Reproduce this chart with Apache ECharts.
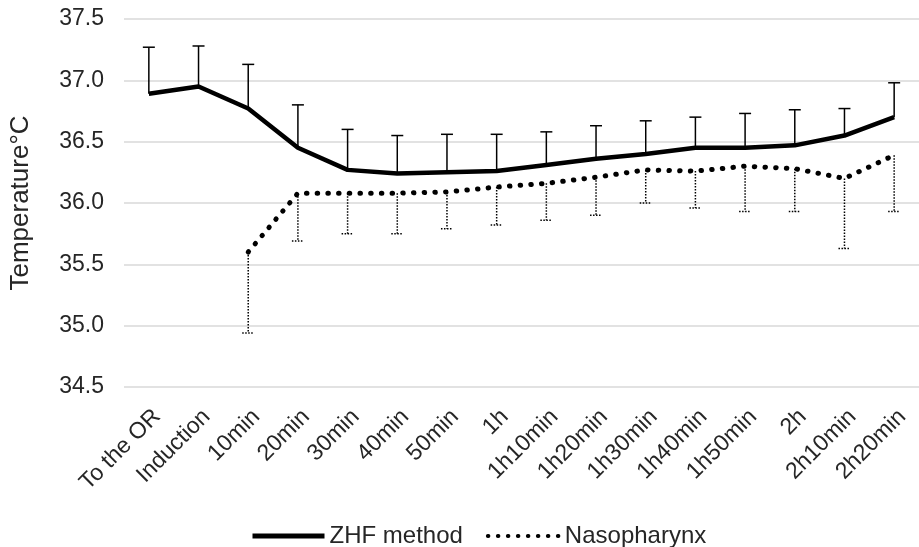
<!DOCTYPE html>
<html>
<head>
	<meta charset="UTF-8">
	<title>Temperature</title>
	<script src="https://cdn.jsdelivr.net/npm/echarts@6/dist/echarts.min.js"></script>
	<style>
		html, body { margin: 0; padding: 0; background: #fff; }
		#container { width: 919px; height: 547px; }
	</style>
</head>
<body>
	<div id="container"></div>
	<script>
		var categories = ['To the OR', 'Induction', '10min', '20min', '30min', '40min', '50min', '1h',
			'1h10min', '1h20min', '1h30min', '1h40min', '1h50min', '2h', '2h10min', '2h20min'];
		var zhfMean  = [36.89, 36.95, 36.77, 36.45, 36.27, 36.24, 36.25, 36.26, 36.31, 36.36, 36.40, 36.45, 36.45, 36.47, 36.55, 36.70];
		var zhfUpper = [37.27, 37.28, 37.13, 36.80, 36.60, 36.55, 36.56, 36.56, 36.58, 36.63, 36.67, 36.70, 36.73, 36.76, 36.77, 36.98];
		var nasoMean  = [null, null, 35.60, 36.08, 36.08, 36.08, 36.09, 36.13, 36.16, 36.21, 36.27, 36.26, 36.30, 36.28, 36.20, 36.39];
		var nasoLower = [null, null, 34.94, 35.69, 35.75, 35.75, 35.79, 35.82, 35.86, 35.90, 36.00, 35.96, 35.93, 35.93, 35.63, 35.93];
		var yTicks = [34.5, 35.0, 35.5, 36.0, 36.5, 37.0, 37.5];

		var font = 'Liberation Sans, Arial, sans-serif';
		var textColor = '#262626';

		function barData(mean, bound) {
			var out = [];
			for (var i = 0; i < mean.length; i++) {
				if (mean[i] != null) out.push([i, mean[i], bound[i]]);
			}
			return out;
		}

		// error bar: vertical stem plus cap, drawn through the axes
		function errorBar(dash) {
			return function (params, api) {
				var x = api.value(0);
				var p1 = api.coord([x, api.value(1)]);
				var p2 = api.coord([x, api.value(2)]);
				var hw = 6;
				var style = { stroke: '#000', lineWidth: 1.5, lineDash: dash };
				return {
					type: 'group',
					children: [
						{ type: 'line', shape: { x1: p1[0], y1: p1[1], x2: p2[0], y2: p2[1] }, style: style },
						{ type: 'line', shape: { x1: p2[0] - hw, y1: p2[1], x2: p2[0] + hw, y2: p2[1] }, style: style }
					]
				};
			};
		}

		var myChart = echarts.init(document.getElementById('container'));
		var option = {
			animation: false,
			textStyle: { fontFamily: font, color: textColor },
			grid: { left: 124, right: -4, top: 19, bottom: 160 },
			legend: {
				data: [
					{ name: 'ZHF method', lineStyle: { width: 5 } },
					{ name: 'Nasopharynx', lineStyle: { width: 4, type: [0.5, 9.5], cap: 'round' } }
				],
				left: 245,
				top: 519,
				itemWidth: 72,
				itemHeight: 24,
				itemGap: 23,
				itemStyle: { opacity: 0 },
				textStyle: { fontFamily: font, fontSize: 24, color: textColor }
			},
			xAxis: {
				type: 'category',
				data: categories,
				axisLine: { show: false },
				axisTick: { show: false },
				axisLabel: {
					rotate: 45, margin: 18, verticalAlign: 'top',
					fontSize: 23, color: textColor, fontFamily: font, interval: 0
				}
			},
			yAxis: {
				type: 'value',
				min: yTicks[0],
				max: yTicks[yTicks.length - 1],
				interval: 0.5,
				name: 'Temperature°C',
				nameLocation: 'middle',
				nameGap: 90,
				nameTextStyle: { fontSize: 26, color: textColor, fontFamily: font },
				axisLabel: {
					margin: 20, fontSize: 23, color: textColor, fontFamily: font,
					formatter: function (v) { return v.toFixed(1); }
				},
				splitLine: { lineStyle: { color: '#d9d9d9', width: 1.5 } }
			},
			series: [
				{
					name: 'ZHF error',
					type: 'custom',
					renderItem: errorBar(null),
					encode: { x: 0, y: [1, 2] },
					data: barData(zhfMean, zhfUpper),
					z: 1
				},
				{
					name: 'Naso error',
					type: 'custom',
					renderItem: errorBar([1.5, 1.5]),
					encode: { x: 0, y: [1, 2] },
					data: barData(nasoMean, nasoLower),
					z: 1
				},
				{
					name: 'ZHF method',
					type: 'line',
					data: zhfMean,
					symbol: 'none',
					lineStyle: { color: '#000', width: 4.5 },
					itemStyle: { color: '#000' },
					z: 3
				},
				{
					name: 'Nasopharynx',
					type: 'line',
					data: nasoMean,
					symbol: 'none',
					lineStyle: { color: '#000', width: 5, type: [0.5, 10.2], cap: 'round' },
					itemStyle: { color: '#000' },
					z: 3
				}
			]
		};
		myChart.setOption(option);
	</script>
</body>
</html>
